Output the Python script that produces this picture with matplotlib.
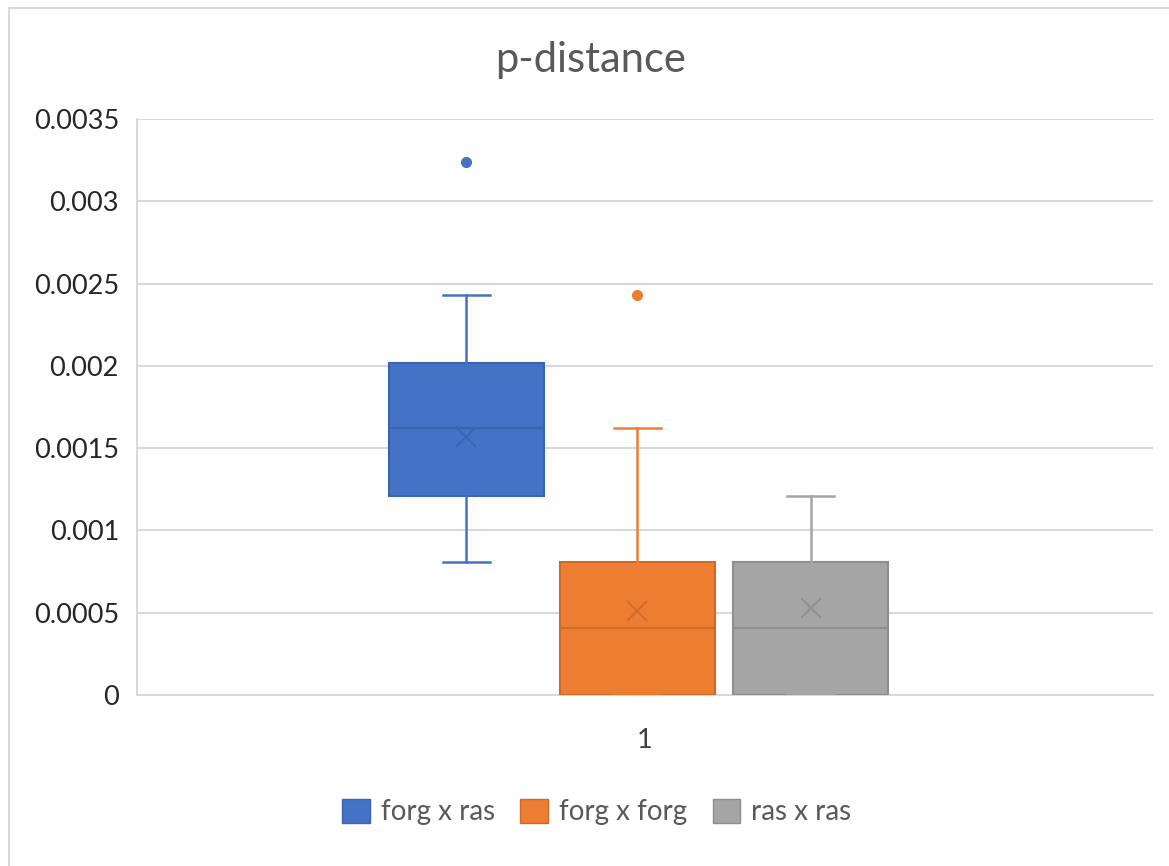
import matplotlib
matplotlib.use("Agg")
from matplotlib import pyplot as plt
from matplotlib import patches as patches
from matplotlib import lines as lines

plt.rcParams['font.family'] = ['Lato', 'DejaVu Sans']

# box statistics per group (Excel style box & whisker)
groups = ['forg x ras', 'forg x forg', 'ras x ras']
whislo = [0.00081, 0.0, 0.0]
q1 = [0.00121, 0.0, 0.0]
median = [0.00162, 0.000405, 0.000405]
q3 = [0.00202, 0.00081, 0.00081]
whishi = [0.00243, 0.00162, 0.00121]
means = [0.00157, 0.00051, 0.00053]
fliers = [[0.00324], [0.00243], []]

yticks = [0, 0.0005, 0.001, 0.0015, 0.002, 0.0025, 0.003, 0.0035]
ytick_labels = ['0', '0.0005', '0.001', '0.0015', '0.002', '0.0025', '0.003', '0.0035']
category = ['1']

face_colors = ['#4472C4', '#ED7D31', '#A5A5A5']
edge_colors = ['#3A64AE', '#CB6A2A', '#8E8E8E']

fig = plt.figure(figsize=(11.69, 8.66), dpi=100)
ax = fig.add_axes([137/1169, 1 - 695/866, (1153 - 137)/1169, (695 - 119)/866])

positions = [0.8243, 0.9926, 1.1629]
box_width = 0.1526

for i in range(3):
    stats = [{
        'whislo': whislo[i], 'q1': q1[i], 'med': median[i], 'q3': q3[i],
        'whishi': whishi[i], 'mean': means[i], 'fliers': fliers[i], 'label': groups[i],
    }]
    ax.bxp(stats, positions=[positions[i]], widths=box_width, showmeans=True,
           patch_artist=True, capwidths=0.046,
           boxprops=dict(facecolor=face_colors[i], edgecolor=edge_colors[i], linewidth=1.5),
           medianprops=dict(color=edge_colors[i], linewidth=1.5),
           whiskerprops=dict(color=face_colors[i], linewidth=1.8),
           capprops=dict(color=face_colors[i], linewidth=1.8),
           meanprops=dict(marker='x', markersize=15, markeredgecolor=edge_colors[i],
                          markeredgewidth=1.3),
           flierprops=dict(marker='o', markersize=7, markerfacecolor=face_colors[i],
                           markeredgecolor=face_colors[i]),
           zorder=3)

ax.set_xlim(0.5, 1.5)
ax.set_ylim(0, 0.0035)
ax.set_yticks(yticks)
ax.set_yticklabels(ytick_labels)
ax.set_xticks([1])
ax.set_xticklabels(category)
ax.tick_params(axis='y', length=0, pad=13, labelsize=19.5, labelcolor='#262626')
ax.tick_params(axis='x', length=0, pad=24, labelsize=19.5, labelcolor='#404040')

ax.yaxis.grid(True, color='#D9D9D9', linewidth=1.5)
ax.set_axisbelow(True)
for side in ['top', 'right']:
    ax.spines[side].set_visible(False)
ax.spines['left'].set_color('#D9D9D9')
ax.spines['left'].set_linewidth(1.5)
ax.spines['bottom'].set_color('#D9D9D9')
ax.spines['bottom'].set_linewidth(1.5)

fig.text(591/1169, 1 - 60/866, 'p-distance', ha='center', va='center',
         fontsize=30, color='#595959')

handles = [patches.Patch(facecolor=face_colors[i], edgecolor=edge_colors[i], label=groups[i])
           for i in range(3)]
fig.legend(handles=handles, loc='center', bbox_to_anchor=(597/1169, 1 - 812/866), ncol=3,
           frameon=False, fontsize=20, labelcolor='#595959', handlelength=1.0,
           handleheight=1.0, handletextpad=0.4, columnspacing=0.9)

# chart area border (top and left edges only)
fig.add_artist(lines.Line2D([9/1169, 1], [1 - 8/866, 1 - 8/866], transform=fig.transFigure,
                            color='#D9D9D9', linewidth=1.5))
fig.add_artist(lines.Line2D([9/1169, 9/1169], [0, 1 - 8/866], transform=fig.transFigure,
                            color='#D9D9D9', linewidth=1.5))

fig.savefig('out.png', dpi=100)
